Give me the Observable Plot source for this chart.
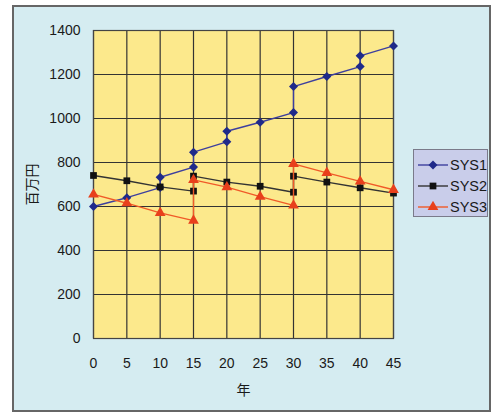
<!DOCTYPE html>
<html>
<head>
<meta charset="utf-8">
<script src="https://cdn.jsdelivr.net/npm/d3@7"></script>
<script src="https://cdn.jsdelivr.net/npm/@observablehq/plot@0.6"></script>
<style>
  html, body { margin: 0; padding: 0; background: #fff; }
  #wrap { position: relative; width: 497px; height: 414px; font-family: "Liberation Sans", "Noto Sans CJK JP", sans-serif; }
  #bg { position: absolute; left: 12px; top: 5px; width: 475px; height: 403px; background: #d5ecf1; border: 2px solid #666; }
  #chart { position: absolute; left: 0; top: 0; }
  #legend { position: absolute; left: 413px; top: 149px; width: 73px; height: 66px; background: #c9cdea; border: 1.5px solid #7a7a8a; font-size: 14.5px; color: #1a1a1a; }
  #legend .row { position: absolute; left: 4px; height: 20px; display: flex; align-items: center; }
  #legend .row span { margin-left: 2px; }
</style>
</head>
<body>
<div id="wrap">
  <div id="bg"></div>
  <div id="chart"></div>
  <div id="legend"></div>
</div>
<script>
const seriesNames = ["SYS1", "SYS2", "SYS3"];
const years1 = [0, 5, 10, 10, 15, 15, 20, 20, 25, 30, 30, 35, 40, 40, 45];
const sys1 = [600, 640, 686, 733, 779, 847, 894, 942, 983, 1027, 1145, 1191, 1236, 1285, 1330];
const years2 = [0, 5, 10, 15, 15, 20, 25, 30, 30, 35, 40, 45];
const sys2 = [741, 717, 689, 670, 738, 711, 692, 665, 738, 711, 685, 661];
const years3 = [0, 5, 10, 15, 15, 20, 25, 30, 30, 35, 40, 45];
const sys3 = [655, 615, 571, 536, 721, 688, 645, 605, 794, 753, 714, 676];
const xTicks = [0, 5, 10, 15, 20, 25, 30, 35, 40, 45];
const yTicks = [0, 200, 400, 600, 800, 1000, 1200, 1400];

// square rotated 45° (Excel-style diamond marker)
const rhombus = {
  draw(context, size) {
    const h = Math.sqrt(size / 2);
    context.moveTo(0, -h);
    context.lineTo(h, 0);
    context.lineTo(0, h);
    context.lineTo(-h, 0);
    context.closePath();
  }
};
const styles = {
  SYS1: {line: "#3d3f9e", dot: "#1f2a8a", symbol: rhombus, r: 3.6},
  SYS2: {line: "#333333", dot: "#111111", symbol: d3.symbolSquare, r: 3.8},
  SYS3: {line: "#f05a28", dot: "#e8401c", symbol: d3.symbolTriangle, r: 4}
};
const build = (xs, ys) => xs.map((x, i) => ({x, y: ys[i]}));
const data = {SYS1: build(years1, sys1), SYS2: build(years2, sys2), SYS3: build(years3, sys3)};

const marks = [
  Plot.frame({fill: "#fce98c", stroke: null}),
  Plot.gridX(xTicks, {stroke: "#333", strokeOpacity: 1, strokeWidth: 1.2}),
  Plot.gridY(yTicks, {stroke: "#333", strokeOpacity: 1, strokeWidth: 1.2}),
  Plot.frame({stroke: "#444", strokeWidth: 1.2})
];
for (const name of seriesNames) {
  const s = styles[name];
  marks.push(Plot.line(data[name], {x: "x", y: "y", stroke: s.line, strokeWidth: 1.4}));
  marks.push(Plot.dot(data[name], {x: "x", y: "y", symbol: () => s.symbol, fill: s.dot, stroke: "none", r: s.r}));
}
marks.push(Plot.axisX(xTicks, {tickSize: 0, tickPadding: 20, fontSize: 14, tickFormat: d => String(d), label: "年", labelAnchor: "center", labelOffset: 56, labelArrow: "none"}));
marks.push(Plot.axisY(yTicks, {tickSize: 0, tickPadding: 13, fontSize: 14, tickFormat: d => String(d), label: "百万円", labelAnchor: "center", labelOffset: 66, labelArrow: "none"}));

const chart = Plot.plot({
  width: 497,
  height: 414,
  marginLeft: 93,
  marginRight: 104,
  marginTop: 30,
  marginBottom: 76,
  style: {background: "transparent", fontFamily: "'Liberation Sans', 'Noto Sans CJK JP', sans-serif", fontSize: "14px", color: "#1a1a1a"},
  x: {domain: [0, 45]},
  y: {domain: [0, 1400]},
  symbol: {type: "identity"},
  marks
});
document.getElementById("chart").appendChild(chart);

// legend
const legend = document.getElementById("legend");
seriesNames.forEach((name, i) => {
  const s = styles[name];
  const row = document.createElement("div");
  row.className = "row";
  row.style.top = (5 + i * 21) + "px";
  const sw = d3.create("svg").attr("width", 30).attr("height", 12);
  sw.append("line").attr("x1", 0).attr("x2", 30).attr("y1", 6).attr("y2", 6).attr("stroke", s.line).attr("stroke-width", 1.4);
  sw.append("path").attr("transform", "translate(15,6)").attr("d", d3.symbol(s.symbol, Math.PI * s.r * s.r)()).attr("fill", s.dot);
  row.appendChild(sw.node());
  const t = document.createElement("span");
  t.textContent = name;
  row.appendChild(t);
  legend.appendChild(row);
});
</script>
</body>
</html>
